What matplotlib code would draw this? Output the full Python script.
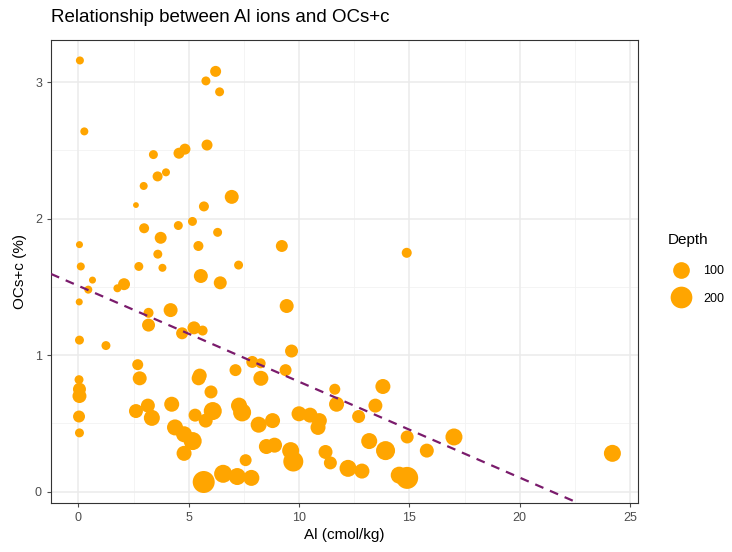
import numpy as np
import matplotlib
matplotlib.use("Agg")
import matplotlib.pyplot as plt
from matplotlib.lines import Line2D

plt.rcParams["font.family"] = ["Liberation Sans", "DejaVu Sans"]

# Al (cmol/kg), OCs+c (%), Depth
al = [0.07, 0.27, 6.22, 5.78, 6.40, 5.83, 4.83, 4.56, 3.40, 3.97,
      3.59, 2.96, 6.95, 2.61, 2.98, 3.73, 3.60, 3.81, 2.74, 4.53,
      5.17, 5.69, 6.31, 5.44, 7.26, 9.22, 5.55, 6.43, 0.05, 0.11,
      0.64, 0.45, 1.77, 2.07, 0.04, 3.18, 4.18, 3.18, 4.70, 5.24,
      5.63, 0.05, 1.25, 9.44, 0.03, 0.05, 0.05, 0.03, 0.05, 2.69,
      2.78, 2.61, 3.15, 3.33, 4.23, 4.38, 4.79, 5.18, 4.79, 5.45,
      5.50, 6.01, 5.29, 5.77, 6.09, 5.68, 6.56, 7.20, 7.84, 7.58,
      7.12, 7.88, 8.26, 8.27, 7.28, 7.42, 8.17, 8.80, 8.52, 8.89,
      9.39, 9.66, 9.62, 9.74, 10.00, 10.50, 10.92, 10.86, 11.62, 11.70,
      11.20, 11.42, 12.70, 13.46, 13.80, 13.18, 13.92, 12.22, 12.85, 14.54,
      14.90, 14.90, 15.79, 17.02, 24.20, 14.88]
ocs = [3.16, 2.64, 3.08, 3.01, 2.93, 2.54, 2.51, 2.48, 2.47, 2.34,
       2.31, 2.24, 2.16, 2.10, 1.93, 1.86, 1.74, 1.64, 1.65, 1.95,
       1.98, 2.09, 1.90, 1.80, 1.66, 1.80, 1.58, 1.53, 1.81, 1.65,
       1.55, 1.48, 1.49, 1.52, 1.39, 1.31, 1.33, 1.22, 1.16, 1.20,
       1.18, 1.11, 1.07, 1.36, 0.82, 0.75, 0.70, 0.55, 0.43, 0.93,
       0.83, 0.59, 0.63, 0.54, 0.64, 0.47, 0.42, 0.37, 0.28, 0.83,
       0.85, 0.73, 0.56, 0.52, 0.59, 0.07, 0.13, 0.11, 0.10, 0.23,
       0.89, 0.95, 0.94, 0.83, 0.63, 0.58, 0.49, 0.52, 0.33, 0.34,
       0.89, 1.03, 0.30, 0.22, 0.57, 0.56, 0.52, 0.47, 0.75, 0.64,
       0.29, 0.21, 0.55, 0.63, 0.77, 0.37, 0.30, 0.17, 0.15, 0.12,
       0.10, 0.40, 0.30, 0.40, 0.28, 1.75]
depth = [8, 8, 28, 13, 13, 28, 28, 28, 13, 8,
         20, 8, 60, 1, 20, 37, 13, 8, 13, 13,
         13, 20, 13, 20, 13, 37, 60, 48, 4, 8,
         4, 8, 8, 37, 4, 20, 60, 48, 37, 48,
         20, 13, 13, 60, 13, 48, 60, 37, 13, 28,
         60, 60, 60, 89, 74, 89, 89, 123, 74, 60,
         60, 48, 48, 60, 123, 207, 123, 105, 89, 37,
         37, 37, 20, 74, 89, 123, 89, 74, 74, 74,
         37, 48, 105, 162, 74, 74, 74, 74, 28, 74,
         60, 48, 48, 60, 74, 89, 142, 105, 74, 105,
         207, 48, 60, 105, 105, 20]

legend_depths = [100, 200]
x_ticks = [0, 5, 10, 15, 20, 25]
y_ticks = [0, 1, 2, 3]

# linear fit shown as dashed line
fit_intercept = 1.508
fit_slope = -0.0703

DPI = 100
ORANGE = "#FFA500"
LINE_COL = "#7A1B6C"


def diam_pt(d):
    # marker diameter grows with sqrt(depth), like ggplot's size scale
    px = 4.6 + 1.21 * np.sqrt(np.asarray(d, dtype=float))
    return px * 72 / DPI


fig = plt.figure(figsize=(7.32, 5.52), dpi=DPI)
ax = fig.add_axes([51 / 732, 1 - 503 / 552, 587 / 732, 463 / 552])

ax.set_xlim(-1.24, 25.36)
ax.set_ylim(-0.084, 3.31)

# grid, theme_bw style
for v in np.arange(-2.5, 27.5, 5):
    ax.axvline(v, color="#F2F2F2", lw=0.6, zorder=0)
for v in np.arange(0.5, 3.5, 1):
    ax.axhline(v, color="#F2F2F2", lw=0.6, zorder=0)
for v in x_ticks:
    ax.axvline(v, color="#EBEBEB", lw=1.1, zorder=0)
for v in y_ticks:
    ax.axhline(v, color="#EBEBEB", lw=1.1, zorder=0)

ax.scatter(al, ocs, s=diam_pt(depth) ** 2, color=ORANGE, edgecolors="none", zorder=3)

ax.axline((0, fit_intercept), slope=fit_slope, color=LINE_COL, lw=1.6,
          ls=(0, (4, 3.2)), zorder=4)

ax.set_xticks(x_ticks)
ax.set_yticks(y_ticks)
ax.tick_params(axis="both", colors="#4D4D4D", labelsize=9, length=3, width=0.8,
               labelcolor="#4D4D4D")
for sp in ax.spines.values():
    sp.set_color("#333333")
    sp.set_linewidth(0.8)

ax.set_xlabel("Al (cmol/kg)", fontsize=11, color="black", labelpad=3)
ax.set_ylabel("OCs+c (%)", fontsize=11, color="black", labelpad=6)
fig.text(51 / 732, 1 - 18 / 552, "Relationship between Al ions and OCs+c",
         fontsize=13.5, ha="left", va="center")

# legend: title as separate text, keys below
fig.text(668 / 732, 1 - 240 / 552, "Depth", fontsize=11, ha="left", va="center")
handles = [Line2D([], [], ls="none", marker="o", color=ORANGE,
                  markersize=float(diam_pt(v)), markeredgewidth=0)
           for v in legend_depths]
fig.legend(handles, [str(v) for v in legend_depths],
           loc="upper left", bbox_to_anchor=(668.5 / 732, 1 - 265 / 552),
           frameon=False, fontsize=9, handletextpad=0.76, labelspacing=1.26,
           borderpad=0, borderaxespad=0)

fig.savefig("out.png", dpi=DPI)
